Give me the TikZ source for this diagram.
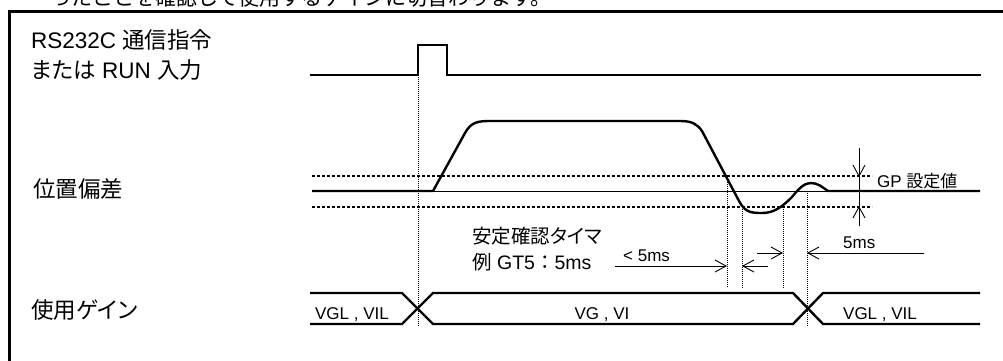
\documentclass[tikz,border=0pt]{standalone}
\usepackage{fontspec}
\setmainfont{Liberation Sans}
\newfontfamily\jp[RawFeature=+palt]{Noto Sans CJK JP}
\newfontfamily\jpw{Noto Sans CJK JP}
\usetikzlibrary{arrows.meta}
\tikzset{
  sig/.style={line width=2.4pt, line join=miter},
  thin/.style={line width=0.9pt},
  band/.style={line width=2.6pt, dash pattern=on 3pt off 2pt},
  guide/.style={line width=0.7pt, dash pattern=on 1pt off 1pt},
  dim/.style={line width=0.9pt, -{Straight Barb[length=11pt,width=12pt,line width=0.9pt]}},
  biglbl/.style={anchor=base west, inner sep=0pt, font=\fontsize{22.5}{27}\selectfont},
  midlbl/.style={anchor=base west, inner sep=0pt, font=\fontsize{19.5}{23}\selectfont},
  smalllbl/.style={anchor=base west, inner sep=0pt, font=\fontsize{17}{20}\selectfont},
  gainlbl/.style={anchor=base, inner sep=0pt, font=\fontsize{17}{20}\selectfont},
}
\begin{document}
\begin{tikzpicture}[x=1pt,y=-1pt]
\useasboundingbox (0,0) rectangle (1003,360);
\clip (0,0) rectangle (1003,360);
% clipped heading line at the very top
\node[anchor=base west, inner sep=0pt, font=\fontsize{21}{25}\selectfont\jpw] (head) at (50,5) {ったことを確認して使用するゲインに切替わります。};
% frame
\draw[line width=2.6pt] (9.5,370) -- (9.5,11.5) -- (1015,11.5);
% labels
\node[biglbl] (l1) at (31,48) {RS232C {\jp 通信指令}};
\node[biglbl] (l2) at (31,78) {{\jp または} RUN {\jp 入力}};
\node[biglbl] (l3) at (33,197) {\jp 位置偏差};
\node[biglbl] (l4) at (31,318) {\jp 使用ゲイン};
% command pulse
\coordinate (p0) at (310,75);
\coordinate (p1) at (418,75);
\coordinate (p2) at (418,45);
\coordinate (p3) at (447,45);
\coordinate (p4) at (447,75);
\coordinate (p5) at (981,75);
\draw[sig] (p0) -- (p1) -- (p2) -- (p3) -- (p4) -- (p5);
% GP band
\coordinate (bu0) at (312,176); \coordinate (bu1) at (872,176);
\coordinate (bl0) at (312,207); \coordinate (bl1) at (872,207);
\draw[band] (bu0) -- (bu1);
\draw[band] (bl0) -- (bl1);
\coordinate (z0) at (433,191); \coordinate (z1) at (828,191);
\draw[thin] (z0) -- (z1);
% deviation signal
\draw[sig, line join=round] (312,191) -- (433,191) -- (465,133)
  .. controls (471,122) and (478,121) .. (490,121) -- (680,121)
  .. controls (692,121) and (697,124) .. (702,131) -- (739,201)
  .. controls (745,212) and (750,213) .. (762,213)
  .. controls (774,213) and (782,207) .. (792,197)
  .. controls (800,187) and (805,183) .. (811,183)
  .. controls (818,183) and (822,187) .. (828,191) -- (980,191);
% guides
\draw[guide] (p1) -- (418,326);
\draw[guide] (727,176) -- (727,288);
\draw[guide] (742,207) -- (742,288);
\draw[guide] (783,207) -- (783,288);
\draw[guide] (807,191) -- (807,326);
% GP dimension
\coordinate (g0) at (859,148); \coordinate (g1) at (859,177);
\coordinate (g2) at (859,206); \coordinate (g3) at (859,226);
\draw[thin] (g1) -- (g2);
\draw[dim] (g0) -- (g1);
\draw[dim] (g3) -- (g2);
\node[smalllbl] (gp) at (877,187) {GP {\jp 設定値}};
% timer labels
\node[midlbl] (t1) at (472,243) {\jp 安定確認タイマ};
\node[midlbl] (t2) at (472,269) {{\jp 例} GT5{\jpw ：}5ms};
% < 5ms dimension
\coordinate (a0) at (615,266); \coordinate (a1) at (727,266);
\coordinate (a2) at (768,266); \coordinate (a3) at (742,266);
\draw[dim] (a0) -- (a1);
\draw[dim] (a2) -- (a3);
\node[smalllbl] (lt) at (623,261) {< 5ms};
% 5ms dimension
\coordinate (b0) at (757,253); \coordinate (b1) at (783,253);
\coordinate (b2) at (924,253); \coordinate (b3) at (807,253);
\draw[dim] (b0) -- (b1);
\draw[dim] (b2) -- (b3);
\node[smalllbl] (fm) at (843,248) {5ms};
% gain row
\draw[sig] (310,293) -- (402,293) -- (433,324) -- (793,324) -- (823,293) -- (980,293);
\draw[sig] (310,324) -- (402,324) -- (433,293) -- (793,293) -- (823,324) -- (980,324);
\node[gainlbl] (g1l) at (352,319) {VGL , VIL};
\node[gainlbl] (g2l) at (602,319) {VG , VI};
\node[gainlbl] (g3l) at (880,319) {VGL , VIL};
\end{tikzpicture}
\end{document}
